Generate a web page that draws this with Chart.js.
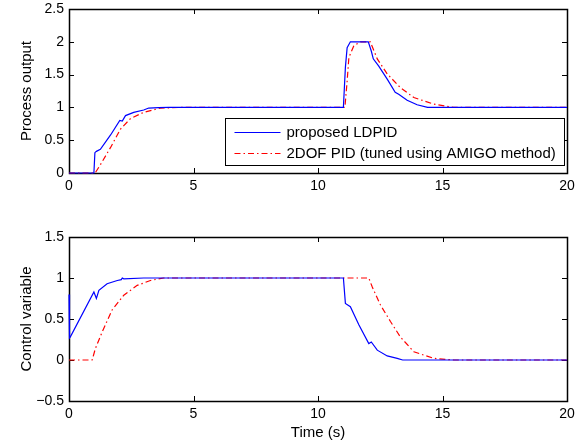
<!DOCTYPE html>
<html>
<head>
<meta charset="utf-8">
<script src="https://cdn.jsdelivr.net/npm/chart.js@4"></script>
<style>
  html, body { margin: 0; padding: 0; background: #fff; }
  #wrap { position: relative; width: 575px; height: 446px; }
  #wrap canvas { position: absolute; left: 0; }
  #topChart { top: 0; }
  #bottomChart { top: 225px; }
</style>
</head>
<body>
<div id="wrap">
  <canvas id="topChart" width="575" height="205"></canvas>
  <canvas id="bottomChart" width="575" height="221"></canvas>
</div>
<script>
// Step test: process output and control variable, LDPID vs 2DOF PID (AMIGO)

const X_TICKS = [0, 5, 10, 15, 20];
const TOP_Y_TICKS = [0, 0.5, 1, 1.5, 2, 2.5];
const BOTTOM_Y_TICKS = [-0.5, 0, 0.5, 1, 1.5];

const LABEL_LDPID = 'proposed LDPID';
const LABEL_AMIGO = '2DOF PID (tuned using AMIGO method)';

// process output, LDPID
const outLdpidT = [0, 1.0, 1.04, 1.1, 1.26, 1.67, 2.04, 2.14, 2.27, 2.6, 3.0, 3.2, 3.6, 4.0,
  11.02, 11.1, 11.17, 11.3, 12.02, 12.14, 12.22, 12.44, 12.78, 13.1, 13.24, 13.58, 13.98, 14.4, 15, 20];
const outLdpidY = [0, 0, 0.31, 0.33, 0.36, 0.58, 0.80, 0.79, 0.875, 0.925, 0.96, 0.99, 0.997, 1.0,
  1.0, 1.61, 1.91, 2.0, 2.0, 1.86, 1.74, 1.63, 1.43, 1.23, 1.20, 1.11, 1.04, 1.0, 1.0, 1.0];

// process output, 2DOF PID
const outAmigoT = [0, 1.05, 1.3, 1.67, 2.07, 2.47, 3.0, 3.67, 4.5,
  11.08, 11.17, 11.24, 11.44, 11.7, 12.1, 12.38, 12.78, 13.31, 13.85, 14.65, 15.45, 20];
const outAmigoY = [0, 0, 0.15, 0.39, 0.67, 0.83, 0.925, 0.99, 1.0,
  1.0, 1.4, 1.76, 1.94, 2.0, 2.0, 1.74, 1.51, 1.30, 1.15, 1.05, 1.0, 1.0];

// control variable, LDPID
const ctlLdpidT = [0, 0.01, 0.02, 0.03, 0.05, 1.0, 1.1, 1.2, 1.53, 1.94, 2.1, 2.14, 2.2, 3.0,
  11.02, 11.1, 11.3, 11.64, 12.04, 12.14, 12.38, 12.78, 13.18, 13.4, 20];
const ctlLdpidY = [0.8, 0.3, 0.8, 0.27, 0.28, 0.83, 0.75, 0.85, 0.93, 0.97, 0.98, 1.0, 0.99, 1.0,
  1.0, 0.69, 0.65, 0.43, 0.20, 0.22, 0.12, 0.05, 0.02, 0, 0];

// control variable, 2DOF PID
const ctlAmigoT = [0, 0.93, 1.06, 1.33, 1.73, 2.2, 2.74, 3.27, 3.8,
  12.04, 12.18, 12.51, 12.91, 13.31, 13.85, 14.65, 15.45, 20];
const ctlAmigoY = [0, 0, 0.14, 0.34, 0.61, 0.79, 0.91, 0.97, 1.0,
  1.0, 0.89, 0.67, 0.47, 0.28, 0.10, 0.02, 0, 0];

const TICK_LEN = 5;

Chart.defaults.font.family = "'Liberation Sans', Arial, sans-serif";
Chart.defaults.font.size = 14;
Chart.defaults.color = '#000';

function pts(ts, ys){
  return ts.map((t, i) => ({ x: t, y: ys[i] }));
}

function fmtTick(v){
  return String(+v.toFixed(2)).replace('-', '\u2212');
}

function lineSet(label, ts, ys, color, dash, width){
  return {
    label,
    data: pts(ts, ys),
    borderColor: color,
    borderWidth: width,
    borderDash: dash,
    pointRadius: 0,
    tension: 0,
    fill: false,
    clip: false
  };
}

// MATLAB-style box with inward ticks on all sides (drawn under the data)
const framePlugin = {
  id: 'frame',
  beforeDatasetsDraw(chart){
    const { ctx, chartArea: a, scales } = chart;
    ctx.save();
    ctx.strokeStyle = '#000';
    ctx.lineWidth = 1;
    ctx.beginPath();
    for (const t of scales.x.ticks){
      const px = Math.round(scales.x.getPixelForValue(t.value)) + 0.5;
      ctx.moveTo(px, a.bottom); ctx.lineTo(px, a.bottom - TICK_LEN);
      ctx.moveTo(px, a.top); ctx.lineTo(px, a.top + TICK_LEN);
    }
    for (const t of scales.y.ticks){
      const py = Math.round(scales.y.getPixelForValue(t.value)) + 0.5;
      ctx.moveTo(a.left, py); ctx.lineTo(a.left + TICK_LEN, py);
      ctx.moveTo(a.right, py); ctx.lineTo(a.right - TICK_LEN, py);
    }
    ctx.stroke();
    ctx.lineWidth = 1.5;
    ctx.strokeRect(Math.round(a.left) + 0.5, Math.round(a.top) + 0.5,
      Math.round(a.width), Math.round(a.height));
    ctx.restore();
  }
};

// legend box drawn inside the plot area, bottom right
const boxLegendPlugin = {
  id: 'boxLegend',
  afterDraw(chart){
    const { ctx, chartArea: a } = chart;
    const w = 339, h = 47;
    const x0 = Math.round(a.right - 3 - w) + 0.5;
    const y0 = Math.round(a.bottom - 8 - h) + 0.5;
    ctx.save();
    ctx.fillStyle = '#fff';
    ctx.fillRect(x0, y0, w, h);
    ctx.strokeStyle = '#000';
    ctx.lineWidth = 1;
    ctx.strokeRect(x0, y0, w, h);
    ctx.font = "15px 'Liberation Sans', Arial, sans-serif";
    ctx.textBaseline = 'middle';
    ctx.fillStyle = '#000';
    chart.data.datasets.forEach((ds, i) => {
      const ly = Math.round(y0 + 13 + i * 21.5) + 0.5;
      ctx.beginPath();
      ctx.strokeStyle = ds.borderColor;
      ctx.lineWidth = ds.borderWidth;
      ctx.setLineDash(ds.borderDash || []);
      ctx.moveTo(x0 + 9, ly);
      ctx.lineTo(x0 + 55, ly);
      ctx.stroke();
      ctx.setLineDash([]);
      ctx.fillText(ds.label, x0 + 61, ly);
    });
    ctx.restore();
  }
};

function makeChart(id, datasets, yTicks, yTitle, opts){
  const yMin = yTicks[0], yMax = yTicks[yTicks.length - 1];
  return new Chart(document.getElementById(id), {
    type: 'line',
    data: { datasets },
    options: {
      responsive: false,
      animation: false,
      layout: { padding: { left: 0, right: 8, top: opts.padTop, bottom: 0 } },
      plugins: { legend: { display: false }, tooltip: { enabled: false } },
      scales: {
        x: {
          type: 'linear',
          min: X_TICKS[0],
          max: X_TICKS[X_TICKS.length - 1],
          afterBuildTicks: s => { s.ticks = X_TICKS.map(v => ({ value: v })); },
          ticks: { padding: 5, maxRotation: 0, callback: v => fmtTick(v) },
          grid: { display: false, drawTicks: false },
          border: { display: false },
          title: opts.xTitle
            ? { display: true, text: opts.xTitle, font: { size: 15 }, padding: { top: 0, bottom: 4 } }
            : { display: false },
          afterFit: s => { s.height = opts.xHeight; s.paddingLeft = 0; s.paddingRight = 0; }
        },
        y: {
          min: yMin,
          max: yMax,
          afterBuildTicks: s => { s.ticks = yTicks.map(v => ({ value: v })); },
          ticks: { padding: 5, callback: v => fmtTick(v) },
          grid: { display: false, drawTicks: false },
          border: { display: false },
          title: { display: true, text: yTitle, font: { size: 15 }, padding: { top: 18, bottom: 0 } },
          afterFit: s => { s.width = 69; s.paddingTop = 0; s.paddingBottom = 0; }
        }
      }
    },
    plugins: opts.legend ? [framePlugin, boxLegendPlugin] : [framePlugin]
  });
}

makeChart('topChart', [
  lineSet(LABEL_LDPID, outLdpidT, outLdpidY, '#0000ff', [], 1.2),
  lineSet(LABEL_AMIGO, outAmigoT, outAmigoY, '#ff0000', [6, 3, 1.5, 3], 1.2)
], TOP_Y_TICKS, 'Process output', { padTop: 9, xHeight: 32, legend: true });

makeChart('bottomChart', [
  lineSet(LABEL_LDPID, ctlLdpidT, ctlLdpidY, '#0000ff', [], 1.2),
  lineSet(LABEL_AMIGO, ctlAmigoT, ctlAmigoY, '#ff0000', [6, 3, 1.5, 3], 1.2)
], BOTTOM_Y_TICKS, 'Control variable', { padTop: 12, xHeight: 45, xTitle: 'Time (s)', legend: false });
</script>
</body>
</html>
